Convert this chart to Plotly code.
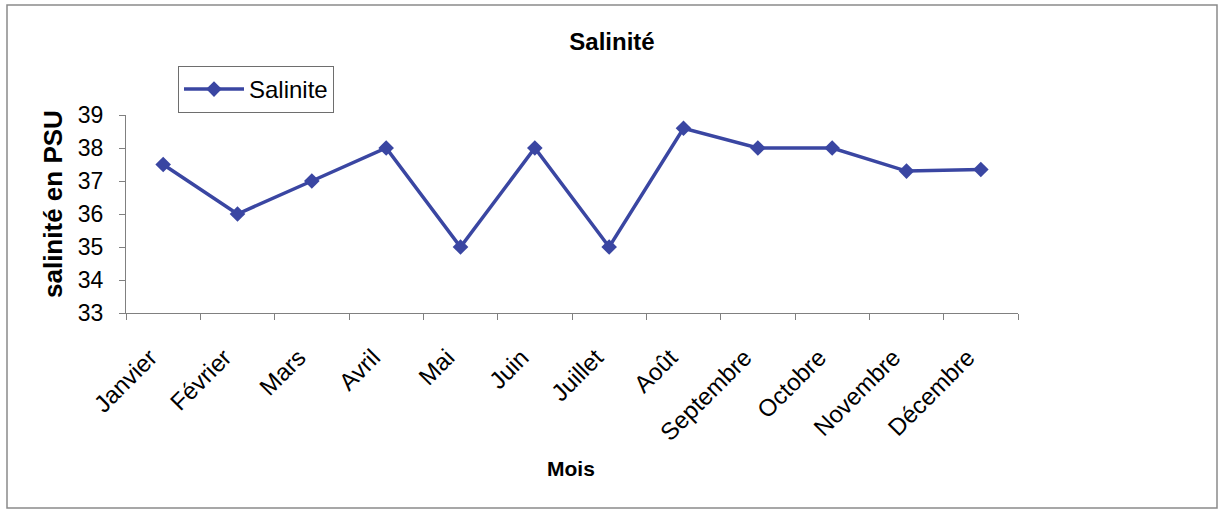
import plotly.graph_objects as go

months = ["Janvier", "Février", "Mars", "Avril", "Mai", "Juin", "Juillet",
          "Août", "Septembre", "Octobre", "Novembre", "Décembre"]
salinite = [37.5, 36.0, 37.0, 38.0, 35.0, 38.0, 35.0, 38.6, 38.0, 38.0, 37.3, 37.35]
y_ticks = [33, 34, 35, 36, 37, 38, 39]

W, H = 1225, 511
L, R, T, B = 126, 1018, 115, 313  # plot area in pixels
pw, ph = R - L, B - T

def px(x):
    return (x - L) / pw

def py(y):
    return (B - y) / ph

FONT = "Liberation Sans, Arial, sans-serif"
BLUE = "#3a46a2"
GRAY = "#808080"

fig = go.Figure()
fig.add_trace(go.Scatter(
    x=months, y=salinite, mode="lines+markers", name="Salinite",
    line=dict(color=BLUE, width=3.5),
    marker=dict(symbol="diamond", size=12, color=BLUE),
))

fig.update_layout(
    width=W, height=H,
    margin=dict(l=L, r=W - R, t=T, b=H - B),
    paper_bgcolor="white", plot_bgcolor="white",
    font=dict(family=FONT, color="black", size=22),
    title=dict(text="<b>Salinité</b>", x=612 / W, xref="container", xanchor="center",
               y=1 - 42 / H, yref="container", yanchor="middle",
               font=dict(size=24, family=FONT, color="black")),
    showlegend=True,
    legend=dict(x=px(178), y=py(66), xanchor="left", yanchor="top",
                bordercolor="#6e6e6e", borderwidth=1, bgcolor="white",
                font=dict(size=24, family=FONT, color="black"),
                itemwidth=60, tracegroupgap=0),
    xaxis=dict(type="category", range=[-0.5, 11.5], tickson="boundaries",
               ticks="outside", ticklen=6, tickcolor=GRAY, showline=True,
               linecolor=GRAY, linewidth=1, showgrid=False, zeroline=False,
               tickangle=-45, ticklabelstandoff=20, ticklabelshift=-13,
               tickfont=dict(size=24, family=FONT, color="black")),
    yaxis=dict(range=[33, 39], tickvals=y_ticks, ticks="outside", ticklen=6,
               tickcolor=GRAY, showline=True, linecolor=GRAY, linewidth=1,
               showgrid=False, zeroline=False, ticklabelstandoff=11,
               tickfont=dict(size=23, family=FONT, color="black")),
)

fig.add_annotation(text="<b>salinité en PSU</b>", xref="paper", yref="paper",
                   x=px(53), y=py(204), textangle=-90, showarrow=False,
                   xanchor="center", yanchor="middle",
                   font=dict(size=26, family=FONT, color="black"))
fig.add_annotation(text="<b>Mois</b>", xref="paper", yref="paper",
                   x=px(571), y=py(468), showarrow=False,
                   xanchor="center", yanchor="middle",
                   font=dict(size=21, family=FONT, color="black"))
fig.add_shape(type="rect", xref="paper", yref="paper",
              x0=px(7), x1=px(1217), y0=py(508), y1=py(5),
              line=dict(color="#8a8a8a", width=1.5))

fig.write_html("out.html")
